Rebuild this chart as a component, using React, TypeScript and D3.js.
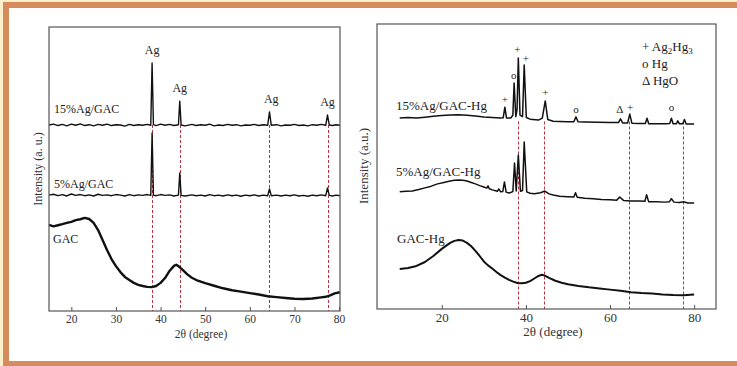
import React, { useRef, useEffect } from 'react';
import * as d3 from 'd3';

// peak positions shared by both panels (Ag reflections)
const agLines = [38.1, 44.3, 64.4, 77.4];

// left panel: [2θ, intensity a.u.]
const ag15 = [
  [15, 65.5], [16, 65.8], [17, 65.3], [18, 65.7], [19, 65.2], [20, 65.8], [21, 65.4], [22, 65.9], [23, 65.3],
  [24, 65.6], [25, 65.2], [26, 65.7], [27, 65.4], [28, 65.8], [29, 65.3], [30, 65.6], [31, 65.5], [32, 65.1],
  [33, 65.7], [34, 65.3], [35, 65.6], [36, 65.4], [37, 65.7], [37.8, 65.4], [38.1, 87.3], [38.4, 65.6],
  [39, 65.3], [40, 65.8], [41, 65.4], [42, 65.7], [43, 65.3], [44.0, 65.6], [44.3, 73.9], [44.6, 65.5],
  [45.5, 65.2], [47, 65.7], [48, 65.3], [49, 65.6], [50, 65.4], [51, 65.8], [52, 65.2], [53, 65.5],
  [54, 65.3], [55, 65.7], [56, 65.4], [57, 65.6], [58, 65.2], [59, 65.5], [60, 65.4], [61, 65.7], [62, 65.3],
  [63, 65.6], [64.0, 65.4], [64.4, 70.1], [64.8, 65.4], [66, 65.6], [67, 65.2], [68, 65.5], [69, 65.4],
  [70, 65.7], [71, 65.3], [72, 65.5], [73, 65.2], [74, 65.6], [75, 65.4], [76, 65.7], [77.0, 65.4],
  [77.4, 69.0], [77.8, 65.5], [78.5, 65.3], [79.3, 65.6], [80.2, 65.4],
];

const ag5 = [
  [15, 40.8], [16, 41.1], [17, 40.6], [18, 41.0], [19, 40.5], [20, 41.2], [21, 40.7], [22, 41.0], [23, 40.6],
  [24, 40.9], [25, 40.5], [26, 41.1], [27, 40.7], [28, 40.9], [29, 40.6], [30, 41.0], [31, 40.8], [32, 40.5],
  [33, 41.0], [34, 40.6], [35, 40.9], [36, 40.7], [37, 41.0], [37.8, 40.7], [38.1, 62.7], [38.4, 40.8],
  [39, 40.6], [40, 41.0], [41, 40.7], [42, 40.9], [43, 40.5], [44.0, 40.8], [44.3, 48.6], [44.6, 40.7],
  [45.5, 40.5], [47, 40.9], [48, 40.6], [49, 40.8], [50, 40.5], [51, 41.0], [52, 40.6], [53, 40.8],
  [54, 40.5], [55, 40.9], [56, 40.6], [57, 40.8], [58, 40.4], [59, 40.8], [60, 40.6], [61, 40.9], [62, 40.5],
  [63, 40.8], [64.0, 40.6], [64.4, 43.0], [64.8, 40.6], [66, 40.8], [67, 40.5], [68, 40.8], [69, 40.6],
  [70, 40.9], [71, 40.5], [72, 40.7], [73, 40.4], [74, 40.8], [75, 40.6], [76, 40.9], [77.0, 40.6],
  [77.4, 43.3], [77.8, 40.7], [78.5, 40.5], [79.3, 40.8], [80.2, 40.6],
];

const gac = [
  [15, 30.3], [16, 29.8], [17, 30.2], [18, 30.6], [19, 31.0], [20, 31.4], [21, 32.0], [22, 32.3], [23, 32.8],
  [24, 32.4], [25, 31.0], [26, 28.5], [27, 25.0], [28, 21.5], [29, 18.3], [30, 15.8], [31, 13.7], [32, 12.0],
  [33, 10.9], [34, 9.9], [35, 9.2], [36, 8.8], [37, 8.5], [38, 8.4], [39, 8.8], [40, 9.9], [41, 11.6],
  [42, 14.1], [43, 15.9], [43.5, 16.3], [44, 15.8], [45, 14.4], [46, 12.9], [47, 11.7], [48, 10.9],
  [50, 9.8], [52, 8.9], [54, 8.0], [56, 7.3], [58, 6.8], [60, 6.3], [62, 5.8], [64, 5.2], [66, 4.9],
  [68, 4.6], [70, 4.3], [72, 4.2], [74, 4.4], [76, 4.8], [77, 5.0], [78, 5.5], [79, 6.2], [80.2, 6.6],
];

// right panel: [2θ, intensity a.u.]
const hg15 = [
  [10, 67.0], [12, 67.2], [14, 67.0], [16, 67.3], [18, 67.6], [20, 67.9], [22, 68.1], [24, 68.2], [26, 68.0],
  [28, 67.7], [30, 67.4], [32, 67.2], [34, 67.0], [34.6, 67.1], [35.0, 70.8], [35.4, 67.0], [36.4, 67.0],
  [36.9, 68.0], [37.2, 79.3], [37.6, 67.5], [37.9, 70.0], [38.2, 88.1], [38.6, 68.0], [39.2, 67.5],
  [39.6, 85.6], [40.1, 67.2], [41, 66.6], [43, 66.3], [43.9, 67.0], [44.6, 73.0], [45.2, 66.5], [46.5, 65.9],
  [48, 65.8], [50, 65.7], [51.4, 65.7], [51.9, 67.4], [52.4, 65.7], [54, 65.6], [57, 65.5], [60, 65.4],
  [62, 65.4], [62.5, 66.7], [63, 65.3], [64.2, 65.3], [64.7, 68.4], [65.2, 65.2], [67, 65.1], [68.4, 65.1],
  [68.8, 66.9], [69.2, 65.0], [71, 65.0], [73, 65.0], [74.2, 65.1], [74.6, 66.9], [75.0, 65.0], [75.8, 65.0],
  [76.1, 66.0], [76.5, 65.0], [77.3, 65.0], [77.7, 66.5], [78.1, 64.9], [80, 64.9],
];

const hg5 = [
  [10, 41.1], [11.5, 41.3], [13, 41.4], [14.5, 41.9], [16, 42.5], [17.5, 43.1], [19, 43.9], [20.5, 44.4],
  [22, 44.9], [23, 45.2], [24, 45.3], [25, 45.2], [26, 44.9], [27, 44.4], [28, 43.9], [29, 43.3], [30, 42.8],
  [30.7, 42.4], [31.0, 43.2], [31.3, 42.2], [32, 41.8], [33.2, 41.3], [33.6, 42.1], [34.0, 41.1],
  [34.5, 41.2], [34.9, 44.6], [35.3, 41.0], [36, 40.7], [36.9, 41.2], [37.3, 51.2], [37.7, 41.4],
  [38.2, 54.0], [38.7, 41.3], [39.2, 41.6], [39.6, 58.6], [40.2, 41.1], [41, 40.6], [42, 40.4], [43.5, 40.8],
  [44.5, 41.4], [45.5, 40.4], [46.5, 40.0], [48, 39.6], [50, 39.4], [51.4, 39.3], [51.8, 40.8], [52.2, 39.2],
  [54, 38.9], [56, 38.7], [58, 38.4], [60, 38.3], [61.6, 38.2], [62.3, 39.3], [63.2, 38.1], [65, 37.9],
  [67, 37.9], [68.3, 37.8], [68.7, 40.1], [69.2, 37.6], [71, 37.6], [73, 37.5], [74.1, 37.6], [74.6, 38.7],
  [75.2, 37.5], [76.5, 37.4], [77.5, 37.6], [78.5, 37.2], [80, 37.2],
];

const gacHg = [
  [10, 14.0], [12, 14.4], [14, 15.1], [16, 16.5], [18, 18.6], [20, 21.1], [22, 23.2], [23, 23.9], [24, 24.2],
  [25, 24.0], [26, 23.2], [27, 22.0], [28, 20.4], [29, 18.6], [30, 16.7], [31, 15.3], [32, 14.2], [33, 13.0],
  [34, 11.9], [35, 11.0], [36, 10.2], [37, 9.6], [38, 9.1], [39, 9.0], [40, 9.2], [41, 9.8], [42, 10.7],
  [43, 11.6], [43.8, 12.0], [44.5, 11.7], [45.5, 10.9], [47, 9.9], [48.5, 9.2], [50, 8.7], [52.5, 8.1],
  [55, 7.6], [57.5, 7.2], [60, 6.8], [62.5, 6.4], [65, 5.9], [67.5, 5.6], [70, 5.4], [72.5, 5.1],
  [75, 4.9], [77.5, 4.8], [80, 5.1],
];

// peak markers: [2θ, label level a.u., symbol]
const agMarks = [[38.1, 90.5, 'Ag'], [44.3, 77.2, 'Ag'], [64.8, 73.3, 'Ag'], [77.4, 72.3, 'Ag']];
const hgMarks = [
  [35.0, 72.3, '+'], [37.1, 80.7, 'o'], [38.0, 90.0, '+'], [40.0, 86.6, '+'], [44.6, 74.8, '+'],
  [51.9, 68.9, 'o'], [62.3, 68.6, 'Δ'], [64.8, 69.3, '+'], [74.6, 69.3, 'o'],
];

const FONT = '"Liberation Serif", "DejaVu Serif", serif';

export default function App() {
  const svgRef = useRef(null);

  useEffect(() => {
    const svg = d3.select(svgRef.current);
    svg.selectAll('*').remove();

    // frame
    svg.append('rect').attr('x', 0).attr('y', 0).attr('width', 737).attr('height', 366).attr('fill', '#fcefcb');
    svg.append('rect').attr('x', 3).attr('y', 2).attr('width', 734).attr('height', 364).attr('fill', '#d68b5c');
    svg.append('rect').attr('x', 9).attr('y', 8).attr('width', 728).attr('height', 353).attr('fill', '#fff');

    const panel = (opts) => {
      const { left, right, top, bottom, domain, ticks, series, marks, labels, dashTop, yLabel, xLabelX, fs, yLabelY, yLabelX } = opts;
      const x = d3.scaleLinear().domain(domain).range([left, right]);
      const y = d3.scaleLinear().domain([0, 100]).range([bottom, top]);
      const g = svg.append('g');

      // dashed reference lines
      g.selectAll('line.ref')
        .data(agLines)
        .enter()
        .append('line')
        .attr('class', 'ref')
        .attr('x1', d => Math.round(x(d)) + 0.5)
        .attr('x2', d => Math.round(x(d)) + 0.5)
        .attr('y1', y(dashTop))
        .attr('y2', bottom)
        .attr('stroke', '#b83040')
        .attr('stroke-width', 1)
        .attr('stroke-dasharray', '3 2');

      const line = d3.line().x(d => x(d[0])).y(d => y(d[1]));
      series.forEach(s => {
        g.append('path')
          .datum(s.data)
          .attr('fill', 'none')
          .attr('stroke', '#111')
          .attr('stroke-width', s.w)
          .attr('stroke-linejoin', 'round')
          .attr('d', line);
      });

      // box
      g.append('rect')
        .attr('x', left).attr('y', top)
        .attr('width', right - left).attr('height', bottom - top)
        .attr('fill', 'none').attr('stroke', '#555').attr('stroke-width', 1.2);

      const axis = g.append('g')
        .attr('transform', `translate(0,${bottom})`)
        .call(d3.axisBottom(x).tickValues(ticks).tickSizeInner(-4).tickSizeOuter(0).tickPadding(4));
      axis.select('.domain').remove();
      axis.selectAll('line').attr('stroke', '#555');
      axis.selectAll('text').attr('font-family', FONT).attr('font-size', fs.tick).attr('fill', '#333');

      g.append('text')
        .attr('x', xLabelX).attr('y', bottom + 27)
        .attr('text-anchor', 'middle')
        .attr('font-family', FONT).attr('font-size', fs.tick).attr('fill', '#333')
        .text('2θ (degree)');

      g.append('text')
        .attr('transform', `translate(${yLabelX},${yLabelY}) rotate(-90)`)
        .attr('text-anchor', 'middle')
        .attr('font-family', FONT).attr('font-size', fs.ylab).attr('fill', '#333')
        .text(yLabel);

      g.selectAll('text.mark')
        .data(marks)
        .enter()
        .append('text')
        .attr('class', 'mark')
        .attr('x', d => x(d[0]))
        .attr('y', d => y(d[1]))
        .attr('text-anchor', 'middle')
        .attr('font-family', FONT).attr('font-size', fs.mark).attr('fill', '#222')
        .text(d => d[2]);

      labels.forEach(l => {
        g.append('text')
          .attr('x', left + l.dx).attr('y', y(l.v))
          .attr('font-family', FONT).attr('font-size', fs.label).attr('fill', '#222')
          .text(l.text);
      });
      return { x, y, g };
    };

    panel({
      left: 49, right: 340, top: 27, bottom: 311, domain: [15, 80.2], ticks: [20, 30, 40, 50, 60, 70, 80],
      series: [{ data: ag15, w: 1.4 }, { data: ag5, w: 1.4 }, { data: gac, w: 2.4 }],
      marks: agMarks, dashTop: 65.5, yLabel: 'Intensity (a. u.)', xLabelX: 201,
      fs: { tick: 11.5, label: 12, mark: 12, ylab: 12 }, yLabelX: 42, yLabelY: 169,
      labels: [{ text: '15%Ag/GAC', v: 69.7, dx: 5 }, { text: '5%Ag/GAC', v: 43.3, dx: 5 }, { text: 'GAC', v: 23.8, dx: 4 }],
    });

    const right = panel({
      left: 377, right: 716, top: 24, bottom: 309, domain: [4.6, 85.2], ticks: [20, 40, 60, 80],
      series: [{ data: hg15, w: 1.5 }, { data: hg5, w: 1.5 }, { data: gacHg, w: 2.0 }],
      marks: hgMarks, dashTop: 65.8, yLabel: 'Intensity (a.u.)', xLabelX: 553,
      fs: { tick: 13, label: 13, mark: 11, ylab: 13 }, yLabelX: 368, yLabelY: 166,
      labels: [{ text: '15%Ag/GAC-Hg', v: 69.8, dx: 19 }, { text: '5%Ag/GAC-Hg', v: 46.6, dx: 19 }, { text: 'GAC-Hg', v: 23.1, dx: 20 }],
    });

    // legend
    const leg = right.g.append('g')
      .attr('font-family', FONT).attr('font-size', 13).attr('fill', '#222');
    const t1 = leg.append('text').attr('x', 642).attr('y', 51);
    t1.append('tspan').text('+  Ag');
    t1.append('tspan').attr('font-size', 9).attr('dy', 3).text('2');
    t1.append('tspan').attr('dy', -3).text('Hg');
    t1.append('tspan').attr('font-size', 9).attr('dy', 3).text('3');
    leg.append('text').attr('x', 642).attr('y', 68).text('o  Hg');
    leg.append('text').attr('x', 642).attr('y', 85).text('Δ  HgO');
  }, []);

  return (
    <svg
      ref={svgRef}
      width={737}
      height={366}
      style={{ position: 'absolute', left: 0, top: 0, background: '#fff' }}
    />
  );
}
